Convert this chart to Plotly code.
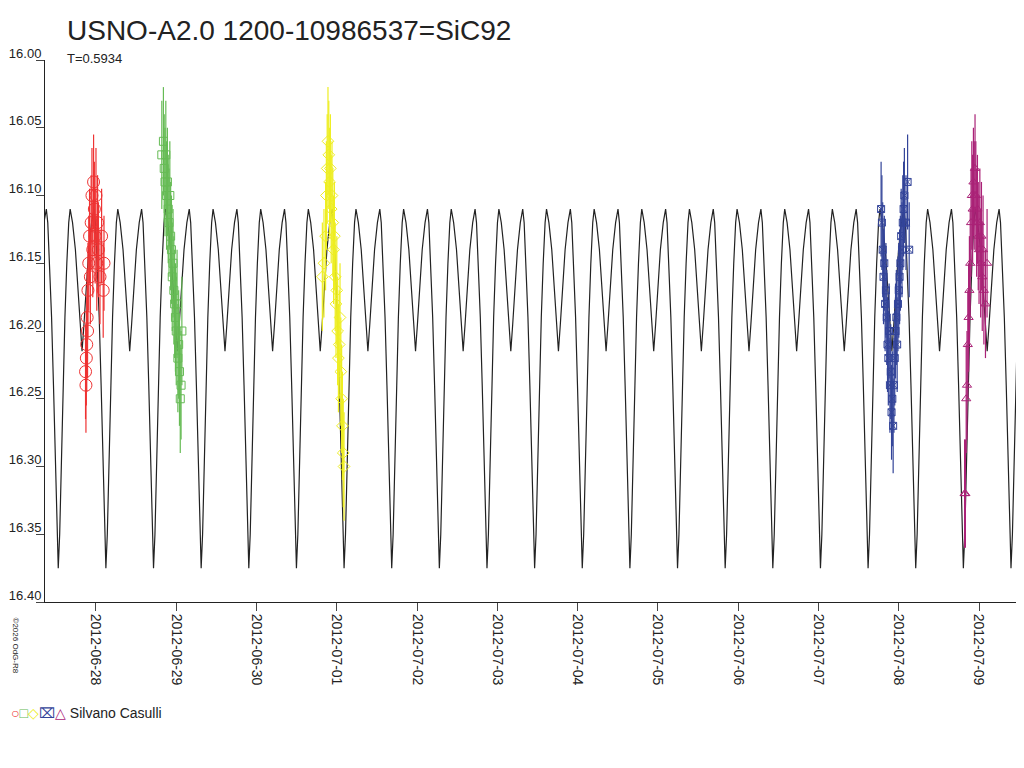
import plotly.graph_objects as go
import pandas as pd

BASE = pd.Timestamp("2012-06-28")
PERIOD = 0.5934
T0 = -0.470  # days from BASE, primary minimum

# one cycle template of the model light curve (phase, mag)
tpl_phase = [0.0, 0.03, 0.06, 0.10, 0.14, 0.18, 0.22, 0.25, 0.30, 0.36, 0.42, 0.46, 0.50,
             0.54, 0.58, 0.64, 0.70, 0.75, 0.78, 0.82, 0.86, 0.90, 0.94, 0.97, 1.0]
tpl_mag = [16.375, 16.35, 16.30, 16.24, 16.19, 16.15, 16.12, 16.11, 16.12, 16.14, 16.17, 16.195, 16.215,
           16.195, 16.17, 16.14, 16.12, 16.11, 16.12, 16.15, 16.19, 16.24, 16.30, 16.35, 16.375]

red_t = [-0.13, -0.125, -0.12, -0.115, -0.11, -0.105, -0.10, -0.09, -0.08, -0.07, -0.06, -0.05,
         -0.04, -0.03, -0.02, -0.01, 0.0, 0.01, 0.02, 0.03, 0.05, 0.07, 0.09, 0.10]
red_m = [16.23, 16.24, 16.22, 16.21, 16.19, 16.20, 16.17, 16.15, 16.13, 16.16, 16.12, 16.10,
         16.14, 16.09, 16.11, 16.13, 16.10, 16.15, 16.12, 16.14, 16.16, 16.13, 16.17, 16.15]
green_t = [0.82, 0.84, 0.85, 0.86, 0.87, 0.88, 0.89, 0.90, 0.91, 0.92, 0.93, 0.94, 0.95, 0.96,
           0.97, 0.98, 0.99, 1.00, 1.01, 1.02, 1.03, 1.04, 1.05, 1.06, 1.07]
green_m = [16.07, 16.06, 16.08, 16.09, 16.07, 16.10, 16.09, 16.11, 16.12, 16.10, 16.13, 16.14, 16.16,
           16.15, 16.17, 16.18, 16.19, 16.20, 16.18, 16.22, 16.21, 16.23, 16.25, 16.24, 16.20]
yellow_t = [2.82, 2.84, 2.86, 2.87, 2.88, 2.89, 2.90, 2.91, 2.92, 2.93, 2.94, 2.95, 2.96, 2.97,
            2.98, 2.99, 3.00, 3.01, 3.02, 3.03, 3.04, 3.05, 3.06, 3.07, 3.08, 3.09]
yellow_m = [16.16, 16.15, 16.13, 16.10, 16.08, 16.06, 16.07, 16.09, 16.08, 16.11, 16.10, 16.12, 16.14,
            16.13, 16.16, 16.18, 16.17, 16.20, 16.22, 16.21, 16.19, 16.23, 16.25, 16.27, 16.29, 16.30]
blue_t = [9.78, 9.79, 9.80, 9.81, 9.82, 9.83, 9.84, 9.85, 9.86, 9.87, 9.88, 9.89, 9.90, 9.91, 9.92,
          9.93, 9.94, 9.95, 9.96, 9.97, 9.98, 9.99, 10.00, 10.01, 10.02, 10.03, 10.04, 10.05, 10.06,
          10.07, 10.09, 10.11, 10.13]
blue_m = [16.11, 16.12, 16.14, 16.16, 16.15, 16.18, 16.17, 16.19, 16.21, 16.22, 16.20, 16.24, 16.23,
          16.26, 16.25, 16.27, 16.24, 16.22, 16.20, 16.19, 16.21, 16.18, 16.17, 16.16, 16.15, 16.13,
          16.14, 16.12, 16.11, 16.10, 16.12, 16.09, 16.14]
mag_t = [10.82, 10.83, 10.84, 10.85, 10.86, 10.87, 10.88, 10.89, 10.90, 10.91, 10.92, 10.93, 10.94,
         10.95, 10.96, 10.97, 10.98, 10.99, 11.00, 11.01, 11.02, 11.03, 11.04, 11.05, 11.06, 11.08, 11.10]
mag_m = [16.32, 16.32, 16.25, 16.24, 16.21, 16.19, 16.17, 16.15, 16.12, 16.10, 16.11, 16.09, 16.10,
         16.08, 16.10, 16.12, 16.11, 16.13, 16.14, 16.12, 16.15, 16.13, 16.16, 16.14, 16.17, 16.18, 16.15]

series = [
    (red_t, red_m, 0.035, "#ee3333", "circle-open", 12),
    (green_t, green_m, 0.04, "#66bb55", "square-open", 8),
    (yellow_t, yellow_m, 0.04, "#eeee22", "diamond-open", 9),
    (blue_t, blue_m, 0.035, "#334499", "square-x-open", 7),
    (mag_t, mag_m, 0.04, "#aa2277", "triangle-up-open", 8),
]

def to_dt(days):
    return BASE + pd.to_timedelta(pd.Series(days), unit="D")

fig = go.Figure()

cx, cy = [], []
for k in range(-2, 22):
    for p, m in zip(tpl_phase, tpl_mag):
        cx.append(T0 + (k + p) * PERIOD)
        cy.append(m)
fig.add_trace(go.Scatter(x=to_dt(cx), y=cy, mode="lines",
                         line=dict(color="#222222", width=1.2), showlegend=False))

for t, m, e, c, sym, sz in series:
    fig.add_trace(go.Scatter(x=to_dt(t), y=m, mode="markers",
                             marker=dict(symbol=sym, color=c, size=sz, line=dict(width=1)),
                             error_y=dict(type="constant", value=e, color=c, thickness=1.2, width=0),
                             showlegend=False))

fig.add_trace(go.Scatter(x=to_dt([5.78]), y=[16.405], mode="markers",
                         marker=dict(symbol="circle-open", color="#333", size=7),
                         cliponaxis=False, showlegend=False))

# page has an 8px body margin: figure origin at (8, 8)
OX, OY = 8, 8
L, T, PW, PH = 45 - OX, 60 - OY, 979, 542

def px(xp):
    return (xp - OX - L) / PW

def py(yp):
    return 1 - (yp - OY - T) / PH

fig.update_layout(
    width=1016, height=760, plot_bgcolor="white", paper_bgcolor="white",
    margin=dict(l=L, r=0, t=T, b=760 - T - PH),
    font=dict(family="Liberation Sans, Arial", color="#222"),
    xaxis=dict(range=[BASE - pd.Timedelta(days=0.635), BASE + pd.Timedelta(days=11.56)],
               tickvals=pd.date_range("2012-06-28", "2012-07-09", freq="D"),
               tickformat="%Y-%m-%d", tickangle=90, ticks="outside", ticklen=8,
               tickfont=dict(size=14), showgrid=False, showline=True, linecolor="#222",
               zeroline=False, automargin=False),
    yaxis=dict(range=[16.40, 16.00], tickvals=[16.00, 16.05, 16.10, 16.15, 16.20, 16.25, 16.30, 16.35, 16.40],
               tickformat=".2f", ticks="outside", ticklen=8, tickfont=dict(size=13),
               ticklabelstandoff=-8, ticklabelshift=7,
               showgrid=False, showline=True, linecolor="#222", zeroline=False, automargin=False),
)
fig.add_annotation(text="USNO-A2.0 1200-10986537=SiC92", xref="paper", yref="paper",
                   x=px(65), y=py(30), xanchor="left", yanchor="middle",
                   showarrow=False, font=dict(size=28))
fig.add_annotation(text="T=0.5934", xref="paper", yref="paper",
                   x=px(65), y=py(58), xanchor="left", yanchor="middle",
                   showarrow=False, font=dict(size=13))
fig.add_annotation(text="©2026 OdG-R8", xref="paper", yref="paper",
                   x=px(9), y=py(645), xanchor="left", yanchor="middle",
                   textangle=90, showarrow=False, font=dict(size=8))
fig.add_annotation(text=("<span style='color:#ee3333'>○</span><span style='color:#66bb55'>□</span>"
                         "<span style='color:#eeee22'>◇</span><span style='color:#334499'>⌧</span>"
                         "<span style='color:#aa2277'>△</span> Silvano Casulli"),
                   xref="paper", yref="paper", x=px(9), y=py(713),
                   xanchor="left", yanchor="middle", showarrow=False, font=dict(size=14))

fig.write_html("out.html")
